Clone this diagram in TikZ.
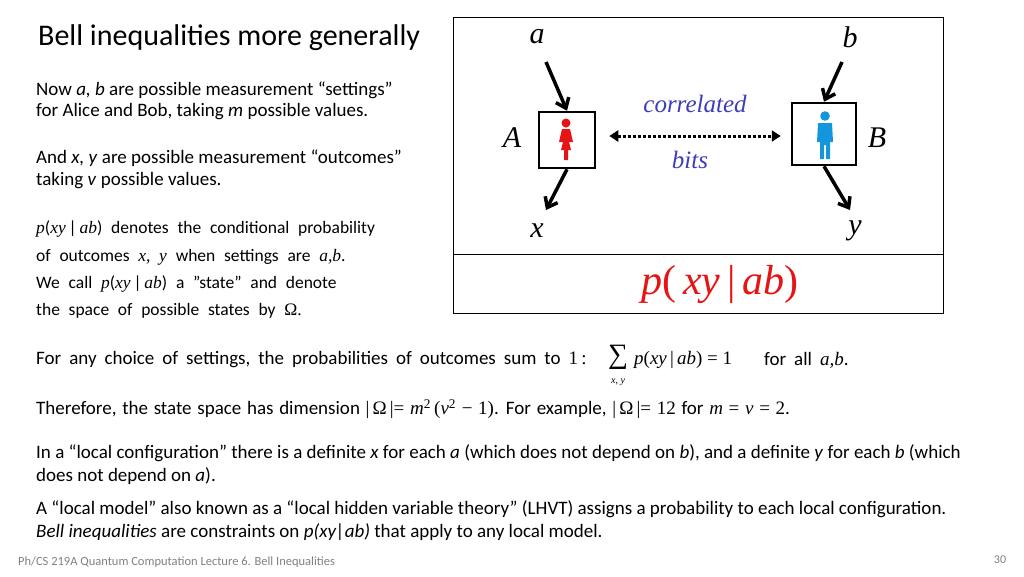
\documentclass[tikz,border=0pt]{standalone}
\usepackage{fontspec}
\setmainfont{Carlito}
\newfontfamily\tms{Liberation Serif}
\usetikzlibrary{arrows.meta}
\definecolor{corrblue}{RGB}{60,60,190}
\definecolor{aliceRed}{RGB}{230,20,20}
\definecolor{bobBlue}{RGB}{20,150,220}
\newcommand{\widespace}[1]{\spaceskip=#1\relax}
\tikzset{txt/.style={anchor=west,inner sep=0pt,font=\fontsize{19}{22}\selectfont}}
\tikzset{widetxt/.style={txt,font={\fontsize{19}{22}\selectfont\widespace{0.42em}}}}
\tikzset{smalltxt/.style={anchor=west,inner sep=0pt,font={\fontsize{17.5}{20}\selectfont\widespace{0.5em}}}}
\tikzset{var/.style={font=\tms\itshape\fontsize{30}{32}\selectfont}}
\tikzset{thing/.style={draw,line width=2.5pt,minimum width=56pt,minimum height=56pt}}
\tikzset{bigArrow/.style={-{Straight Barb[length=9pt,width=14pt]},line width=3.5pt}}
\newcommand{\mth}[1]{{\tms\itshape #1}}
\begin{document}
\begin{tikzpicture}[x=1pt,y=-1pt]
\useasboundingbox (0,0) rectangle (1024,576);
\node[anchor=west,inner sep=0pt,font=\fontsize{30}{32}\selectfont] (title) at (38,38) {Bell inequalities more generally};
\node[txt] (t1) at (36,90) {Now \textit{a, b} are possible measurement “settings”};
\node[txt] (t2) at (36,112) {for Alice and Bob, taking \textit{m} possible values.};
\node[txt] (t3) at (36,158) {And \textit{x, y} are possible measurement “outcomes”};
\node[txt] (t4) at (36,181) {taking \textit{v} possible values.};
\node[smalltxt] (s1) at (36,229) {\mth{p}(\mth{xy}\,|\,\mth{ab}) denotes the conditional probability};
\node[smalltxt] (s2) at (36,257) {of outcomes \mth{x, y} when settings are \mth{a,b}.};
\node[smalltxt] (s3) at (36,284) {We call \mth{p}(\mth{xy}\,|\,\mth{ab}) a "state" and denote};
\node[smalltxt] (s4) at (36,311) {the space of possible states by \tms Ω.};
% the box
\draw[line width=1pt] (453,17) rectangle (943,313);
\draw (453,254) -- (943,254);
\node[var] (a) at (537,37) {a};
\node[var] (b) at (850,37) {b};
\node[var] (x) at (537,231) {x};
\node[var] (y) at (855,231) {y};
\node[thing] (boxA) at (567,140) {};
\node[thing,minimum width=64pt,minimum height=62pt] (boxB) at (824,134) {};
\node[var] (A) at (512,138) {A};
\node[var] (B) at (877,138) {B};
% alice
\fill[aliceRed] (566,123) circle (4.5pt);
\fill[aliceRed] (562,129) -- (570,129) -- (573,142) -- (569,142) -- (571,150) -- (568,150) -- (568,160) -- (564,160) -- (564,150) -- (561,150) -- (563,142) -- (559,142) -- cycle;
% bob
\fill[bobBlue] (825,116) circle (4.8pt);
\fill[bobBlue] (818,123) -- (832,123) -- (833,142) -- (830,142) -- (830,159) -- (826,159) -- (826,145) -- (824,145) -- (824,159) -- (820,159) -- (820,142) -- (817,142) -- cycle;
\draw[bigArrow] (546,62) -- (boxA.north);
\draw[bigArrow] (842,62) -- (boxB.north);
\draw[bigArrow] (boxA.south) -- (546,210);
\draw[bigArrow] (boxB.south) -- (850,210);
\draw[{Triangle[length=9pt,width=11pt]}-{Triangle[length=9pt,width=11pt]},line width=3pt,dash pattern=on 3pt off 2pt] (boxA.east) ++(13,-4) coordinate (cl) -- ([xshift=-10pt]boxB.west |- cl) coordinate (cr);
\node[font=\tms\itshape\fontsize{25}{27}\selectfont,text=corrblue] (corr) at (695,104) {correlated};
\node[font=\tms\itshape\fontsize{25}{27}\selectfont,text=corrblue] (bits) at (690,160) {bits};
\node[font=\tms\fontsize{42}{46}\selectfont,text=aliceRed] (pstate) at (720,284) {\textit{p}(\,\textit{xy}\,|\,\textit{ab})};
% lower text
\node[widetxt] (l1) at (36,360) {For any choice of settings, the probabilities of outcomes sum to \tms 1\,:};
\node[font=\tms\fontsize{28}{30}\selectfont] (sum) at (618,357) {∑};
\node[font=\tms\itshape\fontsize{10}{11}\selectfont] (sumsub) at (618,382) {x, y};
\node[txt] (l1b) at (634,360) {\tms\fontsize{19}{22}\selectfont \textit{p}(\textit{xy}\,|\,\textit{ab}) = 1};
\node[widetxt] (l1c) at (764,360) {for all \mth{a,b}.};
\node[txt,font={\fontsize{19}{22}\selectfont\widespace{0.3em}}] (l2) at (36,409) {Therefore, the state space has dimension {\tms |\,Ω\,|= \textit{m}\textsuperscript{2}\,(\textit{v}\textsuperscript{2} − 1)}. For example, {\tms |\,Ω\,|= 12} for {\tms\textit{m} = \textit{v} = 2}.};
\node[txt] (l3) at (36,453) {In a “local configuration” there is a definite \textit{x} for each \textit{a} (which does not depend on \textit{b}), and a definite \textit{y} for each \textit{b} (which};
\node[txt] (l4) at (36,476) {does not depend on \textit{a}).};
\node[txt] (l5) at (36,509) {A “local model” also known as a “local hidden variable theory” (LHVT) assigns a probability to each local configuration.};
\node[txt] (l6) at (36,532) {\textit{Bell inequalities} are constraints on \textit{p(xy|ab)} that apply to any local model.};
\node[anchor=west,inner sep=0pt,font=\fontsize{12.5}{14}\selectfont,text=gray] (foot) at (18,562) {Ph/CS 219A Quantum Computation Lecture 6. Bell Inequalities};
\node[inner sep=0pt,font=\fontsize{12}{14}\selectfont,text=gray] (page) at (1000,560) {30};
\end{tikzpicture}
\end{document}
